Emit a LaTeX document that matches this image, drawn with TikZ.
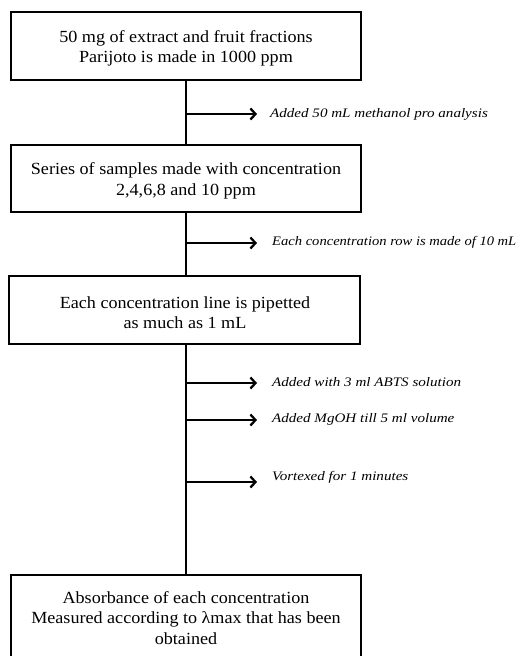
\documentclass[tikz,border=0pt]{standalone}
\usepackage{fontspec}
\setmainfont{Liberation Serif}
\newfontfamily\boxfont[FakeStretch=1.065]{Liberation Serif}
\newfontfamily\lblfont[FakeStretch=1.16]{Liberation Serif}
\newfontfamily\lblfontb[FakeStretch=1.12]{Liberation Serif}
\usetikzlibrary{arrows.meta}
\begin{document}
\begin{tikzpicture}[x=1pt,y=-1pt,
  stepbox/.style={draw,line width=2.2pt,minimum width=350pt,inner sep=0pt},
  steptext/.style={align=center,font=\boxfont\fontsize{17}{20.5}\selectfont,inner sep=0pt},
  lbl/.style={anchor=west,font=\lblfont\itshape\fontsize{13}{15}\selectfont,inner sep=0pt},
  spine/.style={line width=2.8pt},
  side/.style={line width=2.5pt,-{Straight Barb[length=5pt,width=11pt,line width=2.3pt]}}]
\useasboundingbox (0,0) rectangle (520,656);
\begin{scope}
\clip (0,0) rectangle (520,656);
\node[stepbox,minimum height=68pt] (b1) at (186,46) {};
\node[stepbox,minimum height=67pt] (b2) at (186,178.5) {};
\node[stepbox,minimum height=68pt,minimum width=351pt] (b3) at (184.5,310) {};
\node[stepbox,minimum height=110pt] (b4) at (186,630) {};
\node[steptext] (t1) at (186,48.5) {50 mg of extract and fruit fractions\\Parijoto is made in 1000 ppm};
\node[steptext] (t2) at (186,181) {Series of samples made with concentration\\2,4,6,8 and 10 ppm};
\node[steptext] (t3) at (185,312.5) {Each concentration line is pipetted\\as much as 1 mL};
\node[steptext,anchor=north] (t4) at (186,591) {Absorbance of each concentration\\Measured according to λmax that has been\\obtained};
\draw[spine] (b1.south -| 186,0) -- (b2.north -| 186,0);
\draw[spine] (b2.south -| 186,0) -- (b3.north -| 186,0);
\draw[spine] (b3.south -| 186,0) -- (b4.north -| 186,0);
\coordinate (s1) at (187,114); \coordinate (e1) at (257,114);
\coordinate (s2) at (187,243); \coordinate (e2) at (257,243);
\coordinate (s3) at (187,383); \coordinate (e3) at (257,383);
\coordinate (s4) at (187,420); \coordinate (e4) at (257,420);
\coordinate (s5) at (187,482); \coordinate (e5) at (257,482);
\draw[side] (s1) -- (e1);
\draw[side] (s2) -- (e2);
\draw[side] (s3) -- (e3);
\draw[side] (s4) -- (e4);
\draw[side] (s5) -- (e5);
\node[lbl] (l1) at (270,114) {Added 50 mL methanol pro analysis};
\node[lbl,font=\lblfontb\itshape\fontsize{13}{15}\selectfont] (l2) at (272,242) {Each concentration row is made of 10 mL};
\node[lbl] (l3) at (272,382) {Added with 3 ml ABTS solution};
\node[lbl] (l4) at (272,419) {Added MgOH till 5 ml volume};
\node[lbl] (l5) at (272,477) {Vortexed for 1 minutes};
\end{scope}
\end{tikzpicture}
\end{document}
